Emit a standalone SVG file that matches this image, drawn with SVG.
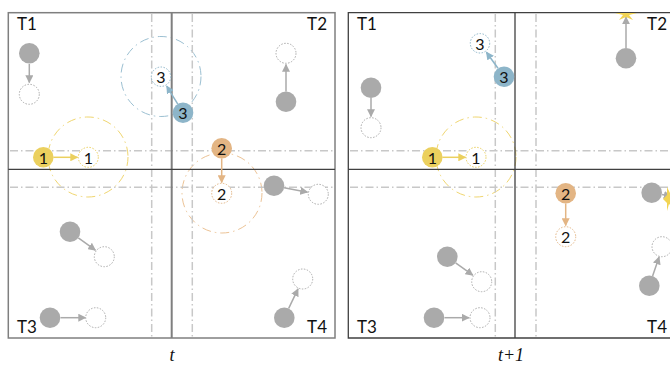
<svg xmlns="http://www.w3.org/2000/svg" width="670" height="367" viewBox="0 0 670 367">
  <style>
    .lbl { font-family: Lato, "Liberation Sans", sans-serif; font-size: 17px; fill: #111; }
    .num { font-family: Lato, "Liberation Sans", sans-serif; font-size: 16px; fill: #111; text-anchor: middle; dominant-baseline: central; }
    .cap { font-family: "Liberation Serif", serif; font-style: italic; font-size: 18px; fill: #111; text-anchor: middle; }
    .guide { stroke: #c8c8c8; stroke-width: 1.5; stroke-dasharray: 8 3 1.5 3; fill: none; }
    .ghost { fill: #fff; stroke-width: 1; stroke-dasharray: 1.5 1.5; }
    .range { fill: none; stroke-width: 1; stroke-dasharray: 9 4 1.5 4; }
    .g-fill { fill: #aaaaaa; }
    .y-fill { fill: #ebd05e; }
    .b-fill { fill: #8db5c9; }
    .o-fill { fill: #e3b584; }
    .ga { stroke: #aaaaaa; stroke-width: 1.5; marker-end: url(#ah-g); }
    .ya { stroke: #ebd05e; stroke-width: 1.5; marker-end: url(#ah-y); }
    .ba { stroke: #8db5c9; stroke-width: 1.5; marker-end: url(#ah-b); }
    .oa { stroke: #e3b584; stroke-width: 1.5; marker-end: url(#ah-o); }
  </style>
  <defs>
    <marker id="ah-g" viewBox="0 0 10 10" refX="9" refY="5" markerWidth="8" markerHeight="8" markerUnits="userSpaceOnUse" orient="auto"><path d="M0,0 L10,5 L0,10 z" fill="#aaaaaa"/></marker>
    <marker id="ah-y" viewBox="0 0 10 10" refX="9" refY="5" markerWidth="8" markerHeight="8" markerUnits="userSpaceOnUse" orient="auto"><path d="M0,0 L10,5 L0,10 z" fill="#ebd05e"/></marker>
    <marker id="ah-b" viewBox="0 0 10 10" refX="9" refY="5" markerWidth="8" markerHeight="8" markerUnits="userSpaceOnUse" orient="auto"><path d="M0,0 L10,5 L0,10 z" fill="#8db5c9"/></marker>
    <marker id="ah-o" viewBox="0 0 10 10" refX="9" refY="5" markerWidth="8" markerHeight="8" markerUnits="userSpaceOnUse" orient="auto"><path d="M0,0 L10,5 L0,10 z" fill="#e3b584"/></marker>
    <filter id="soft" x="-50%" y="-50%" width="200%" height="200%"><feGaussianBlur stdDeviation="0.7"/></filter>
    <clipPath id="below-top"><rect x="600" y="13" width="60" height="20"/></clipPath>
  </defs>

  <rect width="670" height="367" fill="#fff"/>

  <!-- panel t -->
  <g id="panel-t">
    <circle class="range" cx="88" cy="157" r="40" stroke="#f0d670"/>
    <circle class="range" cx="161" cy="76.5" r="40" stroke="#9cc0d2"/>
    <circle class="range" cx="222" cy="193" r="40" stroke="#ecc396"/>
    <line class="guide" x1="10" y1="150.7" x2="333" y2="150.7"/>
    <line class="guide" x1="10" y1="187.3" x2="333" y2="187.3"/>
    <line class="guide" x1="151.7" y1="14" x2="151.7" y2="337"/>
    <line class="guide" x1="192.3" y1="14" x2="192.3" y2="337"/>
    <rect x="8.3" y="12.7" width="326.7" height="325.3" fill="none" stroke="#7f7f7f" stroke-width="1.5"/>
    <line x1="171.7" y1="12.7" x2="171.7" y2="338" stroke="#7f7f7f" stroke-width="2"/>
    <line x1="8.3" y1="169.3" x2="335" y2="169.3" stroke="#404040" stroke-width="1.3"/>
    <text class="lbl" x="17" y="30">T1</text>
    <text class="lbl" x="327" y="30" text-anchor="end">T2</text>
    <text class="lbl" x="17" y="333">T3</text>
    <text class="lbl" x="327" y="333" text-anchor="end">T4</text>
    <text class="cap" x="172" y="361">t</text>
  </g>

  <!-- panel t+1 -->
  <g id="panel-t1">
    <circle class="range" cx="476" cy="157" r="40" stroke="#f0d670"/>
    <line class="guide" x1="350" y1="150.7" x2="670" y2="150.7"/>
    <line class="guide" x1="350" y1="187.3" x2="670" y2="187.3"/>
    <line class="guide" x1="495.3" y1="14" x2="495.3" y2="337"/>
    <line class="guide" x1="536" y1="14" x2="536" y2="337"/>
    <path d="M671,12.7 H348.3 V338 H671" fill="none" stroke="#404040" stroke-width="1.3"/>
    <line x1="515" y1="12.7" x2="515" y2="338" stroke="#404040" stroke-width="1.3"/>
    <line x1="348.3" y1="169.3" x2="671" y2="169.3" stroke="#404040" stroke-width="1.3"/>
    <text class="lbl" x="357" y="30">T1</text>
    <text class="lbl" x="667" y="30" text-anchor="end">T2</text>
    <text class="lbl" x="357" y="333">T3</text>
    <text class="lbl" x="667" y="333" text-anchor="end">T4</text>
    <text class="cap" x="511" y="361">t+1</text>
  </g>

  <!-- connectors -->
  <g id="connectors">
    <line class="ga" x1="29.3" y1="64" x2="29.3" y2="82.5"/>
    <line class="ga" x1="286" y1="91.5" x2="286" y2="64.5"/>
    <line class="ba" x1="177.8" y1="104.2" x2="166.7" y2="86.1"/>
    <line class="ya" x1="53.5" y1="157.3" x2="77.5" y2="157.3"/>
    <line class="oa" x1="221.7" y1="158.5" x2="221.7" y2="182.5"/>
    <line class="ga" x1="284.1" y1="187.7" x2="307.5" y2="192.2"/>
    <line class="ga" x1="78.3" y1="237.8" x2="95.4" y2="250.2"/>
    <line class="ga" x1="60.5" y1="317.7" x2="85.5" y2="317.7"/>
    <line class="ga" x1="288.7" y1="308.4" x2="298" y2="288.9"/>

    <line class="ba" x1="498" y1="68.3" x2="486.4" y2="52.2"/>
    <line class="ga" x1="371" y1="98" x2="371" y2="116.5"/>
    <line class="ya" x1="442.5" y1="157.3" x2="465.5" y2="157.3"/>
    <line class="ga" x1="626" y1="48" x2="626" y2="17"/>
    <line class="oa" x1="565.7" y1="203.5" x2="565.7" y2="225.5"/>
    <line class="ga" x1="662" y1="194.5" x2="671" y2="196.5"/>
    <line class="ga" x1="652.6" y1="276" x2="659.1" y2="257.1"/>
    <line class="ga" x1="455.6" y1="262.8" x2="472.8" y2="275.2"/>
    <line class="ga" x1="444.5" y1="317.7" x2="469" y2="317.7"/>
  </g>

  <!-- nodes at t -->
  <g id="t-gray-a"><circle class="g-fill" cx="29.3" cy="53.3" r="10.3"/><circle class="ghost" cx="29.3" cy="94.3" r="10" stroke="#aaaaaa"/></g>
  <g id="t-gray-b"><circle class="g-fill" cx="286" cy="101.7" r="10.3"/><circle class="ghost" cx="286" cy="53.3" r="10" stroke="#aaaaaa"/></g>
  <g id="t-node-3"><circle class="ghost" cx="161" cy="76.7" r="9.7" stroke="#8db5c9"/><text class="num" x="161" y="76.7">3</text><circle class="b-fill" cx="183" cy="112.7" r="10.3"/><text class="num" x="183" y="112.7">3</text></g>
  <g id="t-node-1"><circle class="y-fill" cx="43.3" cy="157.3" r="10.3"/><text class="num" x="43.3" y="157.3">1</text><circle class="ghost" cx="88.3" cy="157.3" r="10" stroke="#ebd05e"/><text class="num" x="88.3" y="157.3">1</text></g>
  <g id="t-node-2"><circle class="o-fill" cx="221.7" cy="148.3" r="10.3"/><text class="num" x="221.7" y="148.3">2</text><circle class="ghost" cx="221.7" cy="193.3" r="10" stroke="#e3b584"/><text class="num" x="221.7" y="193.3">2</text></g>
  <g id="t-gray-c"><circle class="g-fill" cx="274" cy="185.7" r="10.3"/><circle class="ghost" cx="318.3" cy="194.3" r="10" stroke="#aaaaaa"/></g>
  <g id="t-gray-d"><circle class="g-fill" cx="70" cy="231.7" r="10.3"/><circle class="ghost" cx="104.3" cy="256.7" r="10" stroke="#aaaaaa"/></g>
  <g id="t-gray-e"><circle class="g-fill" cx="50" cy="317.7" r="10.3"/><circle class="ghost" cx="95.7" cy="317.7" r="10" stroke="#aaaaaa"/></g>
  <g id="t-gray-f"><circle class="g-fill" cx="284.3" cy="317.7" r="10.3"/><circle class="ghost" cx="302.7" cy="279" r="10" stroke="#aaaaaa"/></g>

  <!-- nodes at t+1 -->
  <g id="t1-node-3"><circle class="ghost" cx="480" cy="43.3" r="9.7" stroke="#8db5c9"/><text class="num" x="480" y="43.3">3</text><circle class="b-fill" cx="504" cy="76.7" r="10.3"/><text class="num" x="504" y="76.7">3</text></g>
  <g id="t1-gray-a"><circle class="g-fill" cx="371" cy="87.7" r="10.3"/><circle class="ghost" cx="371" cy="127.7" r="10" stroke="#aaaaaa"/></g>
  <g id="t1-node-1"><circle class="y-fill" cx="432.3" cy="157.3" r="10.3"/><text class="num" x="432.3" y="157.3">1</text><circle class="ghost" cx="476" cy="157.3" r="10" stroke="#ebd05e"/><text class="num" x="476" y="157.3">1</text></g>
  <g id="t1-gray-b"><circle class="g-fill" cx="626" cy="58.3" r="10.3"/>
    <polygon clip-path="url(#below-top)" filter="url(#soft)" fill="#f2d453" points="626,8 628.5,12 637,13 629,15 633,20 626,17 619,20 623,15 615,13 623.5,12"/></g>
  <g id="t1-node-2"><circle class="o-fill" cx="565.7" cy="193.3" r="10.3"/><text class="num" x="565.7" y="193.3">2</text><circle class="ghost" cx="565.7" cy="236.7" r="10" stroke="#e3b584"/><text class="num" x="565.7" y="236.7">2</text></g>
  <g id="t1-gray-c"><circle class="g-fill" cx="651.7" cy="192.7" r="10.3"/>
    <polygon filter="url(#soft)" fill="#f2d453" points="676,189 671,195 678,199 671,202 675,209 669,204 667,211 667,203 663,199 667,195 667,187 670,193"/></g>
  <g id="t1-gray-d"><circle class="g-fill" cx="649.3" cy="285.7" r="10.3"/><circle class="ghost" cx="662" cy="246.7" r="10" stroke="#aaaaaa"/></g>
  <g id="t1-gray-e"><circle class="g-fill" cx="447.3" cy="256.7" r="10.3"/><circle class="ghost" cx="481.7" cy="281.7" r="10" stroke="#aaaaaa"/></g>
  <g id="t1-gray-f"><circle class="g-fill" cx="434" cy="317.7" r="10.3"/><circle class="ghost" cx="480" cy="317.7" r="10" stroke="#aaaaaa"/></g>
</svg>
